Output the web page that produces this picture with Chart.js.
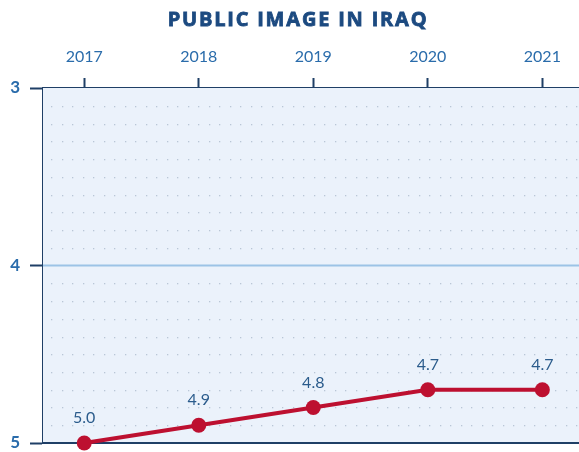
<!DOCTYPE html>
<html><head><meta charset="utf-8">
<script src="https://cdn.jsdelivr.net/npm/chart.js@4"></script>
<style>html,body{margin:0;padding:0;background:#fff;overflow:hidden}#wrap{width:579px;height:452px;position:relative}canvas{display:block}</style>
</head><body><div id="wrap"><canvas id="c"></canvas></div>
<script>
const years = [2017, 2018, 2019, 2020, 2021];
const scores = [5.0, 4.9, 4.8, 4.7, 4.7];
const dataLabels = ['5.0', '4.9', '4.8', '4.7', '4.7'];
const yTickValues = [3, 4, 5];
const titleText = 'PUBLIC IMAGE IN IRAQ';

const navy = '#1f3f66';
const tickBlue = '#2a6cab';

const bgPlugin = {
  id: 'bg',
  beforeDatasetsDraw(chart) {
    const {ctx, chartArea: a, scales: {y}} = chart;
    ctx.save();
    ctx.fillStyle = '#ebf2fb';
    ctx.fillRect(a.left, a.top, a.right - a.left, a.bottom - a.top);
    ctx.fillStyle = '#b9c6d6';
    for (let k = 31; k < 50; k++) {
      const v = k / 10;
      if (k % 10 === 0) continue;
      const py = Math.round(y.getPixelForValue(v));
      for (let px = a.left + 8; px < a.right; px += 10.5) {
        ctx.fillRect(Math.round(px), py, 1.3, 1.3);
      }
    }
    const p4 = y.getPixelForValue(4);
    ctx.strokeStyle = '#9cc3e6';
    ctx.lineWidth = 2;
    ctx.beginPath(); ctx.moveTo(a.left, p4); ctx.lineTo(a.right, p4); ctx.stroke();
    ctx.strokeStyle = navy;
    ctx.lineWidth = 2;
    ctx.beginPath(); ctx.moveTo(a.left - 1, a.bottom); ctx.lineTo(a.right, a.bottom); ctx.stroke();
    ctx.restore();
  },
  afterDatasetsDraw(chart) {
    const {ctx} = chart;
    const meta = chart.getDatasetMeta(0);
    ctx.save();
    ctx.fillStyle = '#2b5c8c';
    ctx.font = '16px Lato, "Open Sans", sans-serif';
    ctx.textAlign = 'center';
    ctx.textBaseline = 'middle';
    meta.data.forEach((pt, i) => {
      ctx.fillText(dataLabels[i], pt.x, pt.y - 25);
    });
    ctx.restore();
  },
  afterDraw(chart) {
    const {ctx} = chart;
    ctx.save();
    ctx.fillStyle = '#1c4a80';
    ctx.strokeStyle = '#1c4a80';
    ctx.lineWidth = 0.8;
    ctx.font = 'bold 20px "Open Sans", Lato, sans-serif';
    try { ctx.letterSpacing = '1.8px'; } catch (e) {}
    ctx.textAlign = 'center';
    ctx.textBaseline = 'middle';
    ctx.fillText(titleText, 298, 20);
    ctx.strokeText(titleText, 298, 20);
    ctx.restore();
  }
};

new Chart(document.getElementById('c'), {
  type: 'line',
  data: {
    datasets: [{
      data: years.map((yr, i) => ({x: yr, y: scores[i]})),
      borderColor: '#bd1030',
      backgroundColor: '#bd1030',
      borderWidth: 4,
      pointRadius: 7.5,
      pointHoverRadius: 7.5,
      pointBorderWidth: 0,
      clip: false
    }]
  },
  options: {
    responsive: true,
    maintainAspectRatio: false,
    animation: false,
    layout: {autoPadding: false, padding: {left: 0, right: 0, top: 0, bottom: 9}},
    plugins: {
      legend: {display: false},
      tooltip: {enabled: false},
      title: {display: false}
    },
    scales: {
      x: {
        type: 'linear',
        position: 'top',
        min: 2016.64,
        max: 2021.32,
        afterBuildTicks: s => { s.ticks = years.map(v => ({value: v})); },
        afterFit: s => { s.height = 88; s.paddingLeft = 0; s.paddingRight = 0; },
        ticks: {
          color: tickBlue,
          font: {family: 'Lato, "Open Sans", sans-serif', size: 16},
          padding: 12,
          callback: v => String(v)
        },
        grid: {drawOnChartArea: false, tickLength: 10, tickColor: navy, tickWidth: 2},
        border: {color: navy, width: 2}
      },
      y: {
        reverse: true,
        min: 3,
        max: 5,
        afterBuildTicks: s => { s.ticks = yTickValues.map(v => ({value: v})); },
        afterFit: s => { s.width = 43; s.paddingTop = 0; s.paddingBottom = 0; },
        ticks: {
          color: tickBlue,
          font: {family: 'Lato, "Open Sans", sans-serif', size: 17, weight: 'bold'},
          padding: 10
        },
        grid: {drawOnChartArea: false, tickLength: 13, tickColor: navy, tickWidth: 2},
        border: {color: navy, width: 2}
      }
    }
  },
  plugins: [bgPlugin]
});
</script>
</body></html>
